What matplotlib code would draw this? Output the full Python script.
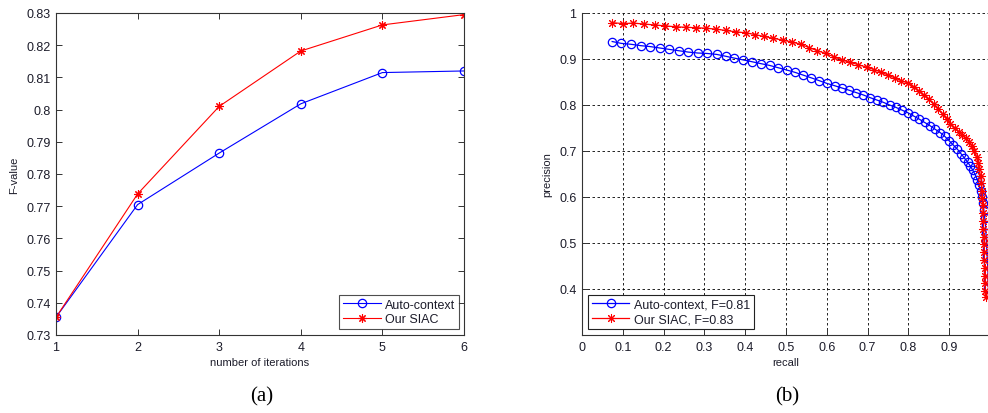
import matplotlib
matplotlib.use("Agg")
import matplotlib.pyplot as plt

# ---------------- data: (a) F-value vs iterations ----------------
iterations = [1, 2, 3, 4, 5, 6]
fval_auto = [0.7355, 0.7705, 0.7865, 0.8018, 0.8115, 0.8120]
fval_siac = [0.7355, 0.7738, 0.8010, 0.8182, 0.8263, 0.8295]
a_yticks = [0.73, 0.74, 0.75, 0.76, 0.77, 0.78, 0.79, 0.80, 0.81, 0.82, 0.83]
a_yticklabels = ["0.73", "0.74", "0.75", "0.76", "0.77", "0.78", "0.79", "0.8", "0.81", "0.82", "0.83"]
a_xticklabels = ["1", "2", "3", "4", "5", "6"]

# ---------------- data: (b) precision-recall ----------------
recall_auto = [0.074, 0.096, 0.120, 0.144, 0.167, 0.190, 0.213, 0.237, 0.261, 0.284,
               0.307, 0.330, 0.352, 0.373, 0.395, 0.417, 0.438, 0.460, 0.481, 0.502,
               0.522, 0.542, 0.562, 0.581, 0.600, 0.619, 0.637, 0.655, 0.672, 0.689,
               0.706, 0.722, 0.738, 0.754, 0.769, 0.784, 0.799, 0.813, 0.827, 0.840,
               0.853, 0.866, 0.878, 0.889, 0.900, 0.910, 0.920, 0.929, 0.937, 0.945,
               0.952, 0.958, 0.964, 0.969, 0.973, 0.977, 0.980, 0.983, 0.985, 0.987,
               0.989, 0.990, 0.991, 0.992, 0.993, 0.994, 0.995, 0.995, 0.996]
prec_auto = [0.938, 0.934, 0.932, 0.929, 0.927, 0.924, 0.921, 0.918, 0.915, 0.913,
             0.912, 0.910, 0.906, 0.902, 0.898, 0.894, 0.890, 0.886, 0.881, 0.876,
             0.871, 0.865, 0.859, 0.853, 0.847, 0.842, 0.837, 0.832, 0.827, 0.822,
             0.816, 0.811, 0.806, 0.800, 0.795, 0.789, 0.783, 0.776, 0.769, 0.762,
             0.755, 0.747, 0.740, 0.732, 0.722, 0.713, 0.704, 0.694, 0.685, 0.676,
             0.667, 0.658, 0.648, 0.637, 0.626, 0.614, 0.601, 0.586, 0.571, 0.555,
             0.539, 0.522, 0.505, 0.488, 0.471, 0.454, 0.437, 0.420, 0.402]

recall_siac = [0.074, 0.100, 0.126, 0.152, 0.178, 0.204, 0.230, 0.254, 0.279, 0.303,
               0.328, 0.353, 0.377, 0.402, 0.424, 0.446, 0.469, 0.492, 0.514, 0.536,
               0.556, 0.577, 0.597, 0.617, 0.637, 0.656, 0.676, 0.698, 0.716, 0.734,
               0.750, 0.766, 0.783, 0.800, 0.813, 0.826, 0.838, 0.850, 0.862, 0.873,
               0.884, 0.894, 0.903, 0.913, 0.923, 0.932, 0.941, 0.949, 0.956, 0.962,
               0.967, 0.971, 0.974, 0.977, 0.979, 0.980, 0.981, 0.982, 0.983, 0.984,
               0.984, 0.985, 0.985, 0.986, 0.986, 0.987, 0.987, 0.988, 0.988, 0.989]
prec_siac = [0.979, 0.977, 0.978, 0.976, 0.974, 0.972, 0.970, 0.969, 0.968, 0.967,
             0.965, 0.962, 0.959, 0.957, 0.953, 0.949, 0.945, 0.941, 0.937, 0.932,
             0.925, 0.918, 0.912, 0.905, 0.898, 0.893, 0.888, 0.882, 0.877, 0.871,
             0.865, 0.859, 0.853, 0.847, 0.839, 0.830, 0.821, 0.812, 0.802, 0.791,
             0.780, 0.769, 0.759, 0.750, 0.742, 0.735, 0.728, 0.720, 0.710, 0.699,
             0.687, 0.674, 0.660, 0.645, 0.630, 0.614, 0.598, 0.582, 0.565, 0.548,
             0.531, 0.514, 0.497, 0.480, 0.463, 0.446, 0.429, 0.412, 0.396, 0.382]

b_xticks = [0.0, 0.1, 0.2, 0.3, 0.4, 0.5, 0.6, 0.7, 0.8, 0.9, 1.0]
b_xticklabels = ["0", "0.1", "0.2", "0.3", "0.4", "0.5", "0.6", "0.7", "0.8", "0.9", ""]
b_yticks = [0.4, 0.5, 0.6, 0.7, 0.8, 0.9, 1.0]
b_yticklabels = ["0.4", "0.5", "0.6", "0.7", "0.8", "0.9", "1"]

legend_a = ["Auto-context", "Our SIAC"]
legend_b = ["Auto-context, F=0.81", "Our SIAC, F=0.83"]

# ---------------- style ----------------
plt.rcParams['font.family'] = ['Liberation Sans', 'DejaVu Sans']
TXT = '#1c1c2a'
TICK_FS = 9
LAB_FS = 8
star = (8, 2, 0)

fig = plt.figure(figsize=(9.88, 4.14), dpi=100)

# ---------- (a) ----------
axA = fig.add_axes([56/988, 1-336/414, 408/988, 322/414])
axA.plot(iterations, fval_auto, color='#0000ff', lw=0.8, marker='o',
         markersize=6, markerfacecolor='none', markeredgewidth=0.9, label=legend_a[0])
axA.plot(iterations, fval_siac, color='#ff0000', lw=0.8, marker=star,
         markersize=6, markeredgewidth=0.8, label=legend_a[1])
axA.set_xlim(1, 6)
axA.set_ylim(0.73, 0.83)
axA.set_xticks(iterations)
axA.set_xticklabels(a_xticklabels)
axA.set_yticks(a_yticks)
axA.set_yticklabels(a_yticklabels)
axA.tick_params(direction='in', top=True, right=True, length=4, width=0.7,
                labelsize=TICK_FS, labelcolor=TXT, color='#333333', pad=4)
for s in axA.spines.values():
    s.set_linewidth(0.8)
    s.set_color('#333333')
axA.set_xlabel("number of iterations", fontsize=LAB_FS, color=TXT, labelpad=3)
axA.set_ylabel("F-value", fontsize=LAB_FS, color=TXT, labelpad=5)
legA = axA.legend(loc='lower right', bbox_to_anchor=(459/988, 1-330/414),
                  bbox_transform=fig.transFigure, numpoints=1, fontsize=TICK_FS,
                  frameon=True, fancybox=False, handlelength=3.0, handletextpad=0.35,
                  borderpad=0.3, labelspacing=0.2, borderaxespad=0)
legA.get_frame().set_edgecolor('#222222')
legA.get_frame().set_linewidth(0.8)
for t in legA.get_texts():
    t.set_color(TXT)

# ---------- (b) ----------
axB = fig.add_axes([582/988, 1-336/414, 408/988, 322/414])
axB.plot(recall_auto, prec_auto, color='#0000ff', lw=0.9, marker='o',
         markersize=6, markerfacecolor='none', markeredgewidth=0.9, label=legend_b[0])
axB.plot(recall_siac, prec_siac, color='#ff0000', lw=0.9, marker=star,
         markersize=6.5, markeredgewidth=0.75, label=legend_b[1])
axB.set_xlim(0, 1)
axB.set_ylim(0.3, 1.0)
axB.set_xticks(b_xticks)
axB.set_xticklabels(b_xticklabels)
axB.set_yticks(b_yticks)
axB.set_yticklabels(b_yticklabels)
axB.grid(True, color='black', linestyle=(0, (3, 3)), linewidth=0.6)
axB.set_axisbelow(True)
axB.spines['top'].set_visible(False)
axB.spines['right'].set_visible(False)
for s in ['left', 'bottom']:
    axB.spines[s].set_linewidth(0.8)
    axB.spines[s].set_color('#333333')
axB.tick_params(direction='in', length=4, width=0.7, labelsize=TICK_FS,
                labelcolor=TXT, color='#333333', pad=4)
axB.set_xlabel("recall", fontsize=LAB_FS, color=TXT, labelpad=3)
axB.set_ylabel("precision", fontsize=LAB_FS, color=TXT, labelpad=5)
legB = axB.legend(loc='lower left', bbox_to_anchor=(588/988, 1-330/414),
                  bbox_transform=fig.transFigure, numpoints=1, fontsize=TICK_FS,
                  frameon=True, fancybox=False, handlelength=3.0, handletextpad=0.35,
                  borderpad=0.3, labelspacing=0.2, borderaxespad=0, framealpha=1)
legB.get_frame().set_edgecolor('#222222')
legB.get_frame().set_linewidth(0.8)
for t in legB.get_texts():
    t.set_color(TXT)

# captions
fig.text(262/988, 1-397/414, "(a)", ha='center', va='center', fontsize=15,
         family=['Liberation Serif', 'DejaVu Serif'], color='black')
fig.text(787/988, 1-397/414, "(b)", ha='center', va='center', fontsize=15,
         family=['Liberation Serif', 'DejaVu Serif'], color='black')

fig.savefig("out.png", dpi=100)
